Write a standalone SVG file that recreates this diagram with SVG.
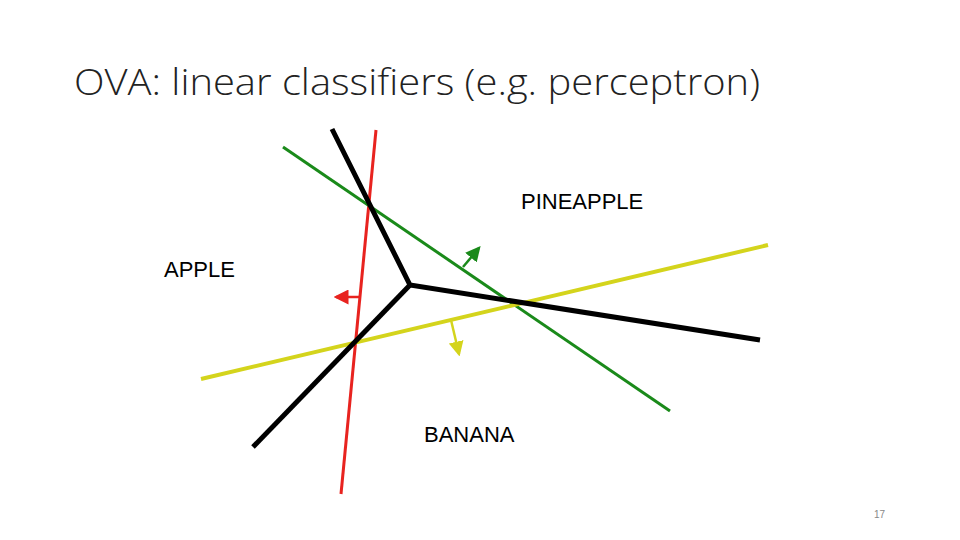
<svg xmlns="http://www.w3.org/2000/svg" width="960" height="540" viewBox="0 0 960 540">
<style>
.lbl{font-family:"Liberation Sans",Arial,sans-serif;font-size:22px;fill:#000}
</style>
<defs>
<marker id="ag" markerWidth="6" markerHeight="6" refX="5" refY="3" orient="auto" markerUnits="strokeWidth"><path d="M0,0 L6,3 L0,6 z" fill="#1a8a1a"/></marker>
<marker id="ar" markerWidth="6" markerHeight="6" refX="5" refY="3" orient="auto" markerUnits="strokeWidth"><path d="M0,0 L6,3 L0,6 z" fill="#e8231f"/></marker>
<marker id="ay" markerWidth="6" markerHeight="6" refX="5" refY="3" orient="auto" markerUnits="strokeWidth"><path d="M0,0 L6,3 L0,6 z" fill="#d4d41c"/></marker>
</defs>
<rect width="960" height="540" fill="#fff"/>
<text x="74" y="95" font-family="'Open Sans','Noto Sans',sans-serif" font-weight="300" font-size="37" textLength="686" lengthAdjust="spacingAndGlyphs" fill="#222">OVA: linear classifiers (e.g. perceptron)</text>
<g id="connectors" fill="none" stroke-linecap="butt">
<line x1="376" y1="130" x2="341" y2="494" stroke="#e8231f" stroke-width="3"/>
<line x1="283" y1="147" x2="670" y2="411" stroke="#1a8a1a" stroke-width="3"/>
<line x1="201" y1="379" x2="768" y2="245" stroke="#d4d41c" stroke-width="4"/>
<polyline points="332,129 410,285 760,340" stroke="#000" stroke-width="5"/>
<line x1="410" y1="285" x2="253" y2="447" stroke="#000" stroke-width="5"/>
<line x1="463" y1="267" x2="479" y2="248" stroke="#1a8a1a" stroke-width="2.5" marker-end="url(#ag)"/>
<line x1="361" y1="297" x2="336" y2="297" stroke="#e8231f" stroke-width="2.5" marker-end="url(#ar)"/>
<line x1="451" y1="320" x2="459" y2="354" stroke="#d4d41c" stroke-width="2.5" marker-end="url(#ay)"/>
</g>
<g id="pineapple"><text class="lbl" x="521" y="209">PINEAPPLE</text></g>
<g id="apple"><text class="lbl" x="164" y="277">APPLE</text></g>
<g id="banana"><text class="lbl" x="424" y="442">BANANA</text></g>
<text x="874" y="518" font-family="'Liberation Sans',sans-serif" font-size="10" fill="#888">17</text>
</svg>
